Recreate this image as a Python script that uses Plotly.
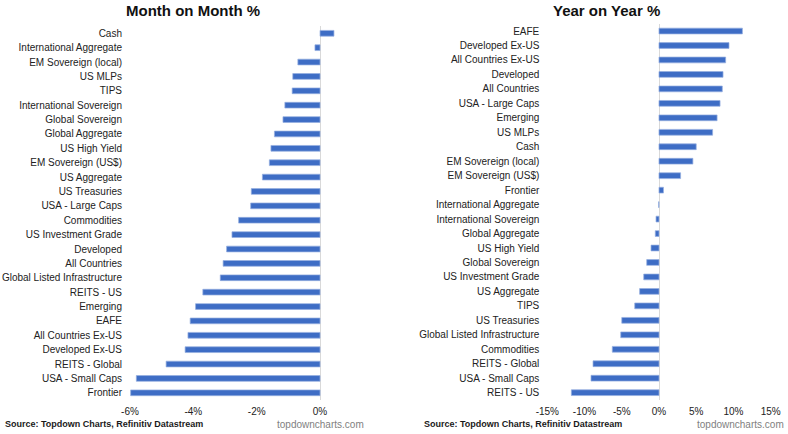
import plotly.graph_objects as go

# Month on Month % (top to bottom)
mom_categories = ["Cash", "International Aggregate", "EM Sovereign (local)", "US MLPs", "TIPS",
                  "International Sovereign", "Global Sovereign", "Global Aggregate", "US High Yield",
                  "EM Sovereign (US$)", "US Aggregate", "US Treasuries", "USA - Large Caps",
                  "Commodities", "US Investment Grade", "Developed", "All Countries",
                  "Global Listed Infrastructure", "REITS - US", "Emerging", "EAFE",
                  "All Countries Ex-US", "Developed Ex-US", "REITS - Global", "USA - Small Caps",
                  "Frontier"]
mom_values = [0.44, -0.16, -0.70, -0.86, -0.88, -1.11, -1.17, -1.44, -1.55, -1.60, -1.82,
              -2.17, -2.19, -2.57, -2.78, -2.95, -3.06, -3.15, -3.70, -3.93, -4.10, -4.17,
              -4.26, -4.86, -5.80, -5.98]

# Year on Year % (top to bottom)
yoy_categories = ["EAFE", "Developed Ex-US", "All Countries Ex-US", "Developed", "All Countries",
                  "USA - Large Caps", "Emerging", "US MLPs", "Cash", "EM Sovereign (local)",
                  "EM Sovereign (US$)", "Frontier", "International Aggregate",
                  "International Sovereign", "Global Aggregate", "US High Yield",
                  "Global Sovereign", "US Investment Grade", "US Aggregate", "TIPS",
                  "US Treasuries", "Global Listed Infrastructure", "Commodities",
                  "REITS - Global", "USA - Small Caps", "REITS - US"]
yoy_values = [11.2, 9.4, 8.95, 8.6, 8.5, 8.2, 7.8, 7.2, 5.0, 4.55, 2.9, 0.6, -0.05, -0.4,
              -0.5, -1.07, -1.65, -2.05, -2.6, -3.26, -5.0, -5.14, -6.27, -8.86, -9.13, -11.77]

mom_ticks = [-6, -4, -2, 0]
yoy_ticks = [-15, -10, -5, 0, 5, 10, 15]

W, H = 788, 434
BAR = "#3E6DC5"
EDGE = "rgba(150,175,225,0.9)"
FONT = "Liberation Sans, Arial, sans-serif"

fig = go.Figure()
fig.add_trace(go.Bar(x=mom_values, y=mom_categories, orientation="h", xaxis="x", yaxis="y",
                     marker=dict(color=BAR, line=dict(color=EDGE, width=0.8)), width=0.4,
                     hoverinfo="x+y"))
fig.add_trace(go.Bar(x=yoy_values, y=yoy_categories, orientation="h", xaxis="x2", yaxis="y2",
                     marker=dict(color=BAR, line=dict(color=EDGE, width=0.8)), width=0.4,
                     hoverinfo="x+y"))

axis_font = dict(family=FONT, size=10, color="#222222")

fig.update_layout(
    template="none",
    width=W, height=H, margin=dict(l=0, r=0, t=0, b=0, autoexpand=False),
    paper_bgcolor="white", plot_bgcolor="white", showlegend=False,
    font=dict(family=FONT),
    xaxis=dict(domain=[130 / W, 351.7 / W], range=[-6, 1], tickvals=mom_ticks,
               ticktext=[f"{v}%" for v in mom_ticks], showgrid=False, zeroline=True,
               zerolinecolor="#d9d9d9", zerolinewidth=1, showline=False, ticks="",
               tickfont=axis_font, ticklabelstandoff=4, anchor="y", fixedrange=True,
               automargin=False),
    yaxis=dict(domain=[34 / H, 407.9 / H], range=[25.5, -0.5], type="category",
               categoryarray=mom_categories, showgrid=False, showline=False, ticks="",
               tickfont=axis_font, ticklabelstandoff=7, anchor="x", fixedrange=True,
               automargin=False),
    xaxis2=dict(domain=[547.3 / W, 770.7 / W], range=[-15, 15], tickvals=yoy_ticks,
                ticktext=[f"{v}%" for v in yoy_ticks], showgrid=False, zeroline=True,
                zerolinecolor="#d9d9d9", zerolinewidth=1, showline=False, ticks="",
                tickfont=axis_font, ticklabelstandoff=4, anchor="y2", fixedrange=True,
                automargin=False),
    yaxis2=dict(domain=[34.1 / H, 410.2 / H], range=[25.5, -0.5], type="category",
                categoryarray=yoy_categories, showgrid=False, showline=False, ticks="",
                tickfont=axis_font, ticklabelstandoff=7, anchor="x2", fixedrange=True,
                automargin=False),
)

ann = []
ann.append(dict(text="<b>Month on Month %</b>", x=193 / W, y=1 - 10 / H, xref="paper", yref="paper",
                xanchor="center", yanchor="middle", showarrow=False,
                font=dict(family=FONT, size=15, color="#111111")))
ann.append(dict(text="<b>Year on Year %</b>", x=606 / W, y=1 - 10 / H, xref="paper", yref="paper",
                xanchor="center", yanchor="middle", showarrow=False,
                font=dict(family=FONT, size=15, color="#111111")))
for x0 in (3, 422):
    ann.append(dict(text="<b>Source: Topdown Charts, Refinitiv Datastream</b>", x=x0 / W,
                    y=1 - 424 / H, xref="paper", yref="paper", xanchor="left", yanchor="middle",
                    showarrow=False, font=dict(family=FONT, size=9, color="#1a1a1a")))
for x1 in (366, 786):
    ann.append(dict(text="topdowncharts.com", x=x1 / W, y=1 - 424 / H, xref="paper", yref="paper",
                    xanchor="right", yanchor="middle", showarrow=False,
                    font=dict(family=FONT, size=10, color="#7f7f7f")))
fig.update_layout(annotations=ann)

fig.write_html("out.html", config={"displayModeBar": False},
               post_script="document.body.style.margin='0';document.body.style.overflow='hidden';")
